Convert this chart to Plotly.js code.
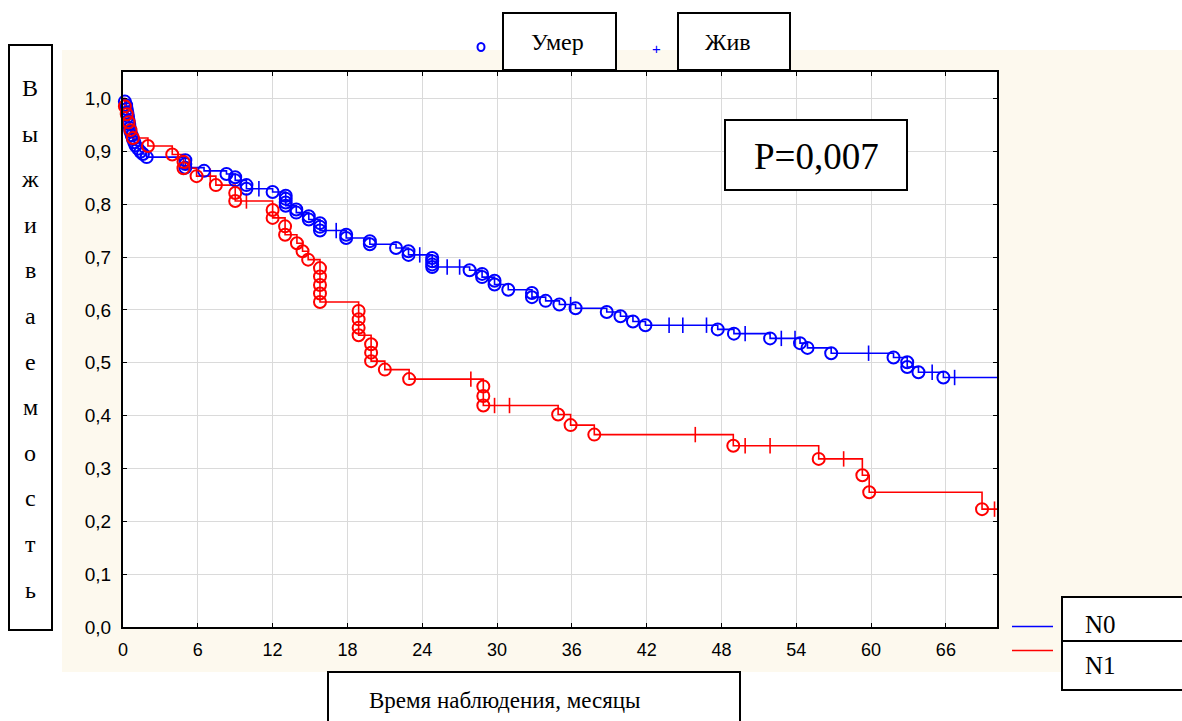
<!DOCTYPE html>
<html>
<head>
<meta charset="utf-8">
<script src="https://cdn.plot.ly/plotly-3.0.1.min.js"></script>
<style>html,body{margin:0;padding:0;background:#fff;}#chart{width:1182px;height:721px;}</style>
</head>
<body>
<div id="chart"></div>
<script>
// ---- Data ----
// N0 group: event (death) times in months and survival after each event
const n0DeathT = [0.15,0.25,0.3,0.35,0.4,0.45,0.5,0.55,0.6,0.7,0.8,0.9,1.0,1.2,1.4,1.6,1.9,
  5.0,5.0,5.0,6.5,8.3,9.0,9.0,9.9,9.9,12.0,13.05,13.05,13.05,13.05,13.9,13.9,14.9,14.9,
  15.8,15.8,15.8,17.9,17.9,19.8,19.8,21.9,22.9,22.9,24.8,24.8,24.8,24.8,27.8,28.8,28.8,
  29.8,29.8,30.9,32.8,32.8,33.9,35.0,36.3,38.8,39.9,40.9,41.9,47.7,49.0,51.9,54.3,54.9,
  56.8,61.8,62.9,62.9,63.8,65.8];
const n0DeathS = [0.994,0.987,0.980,0.973,0.966,0.958,0.951,0.944,0.937,0.930,0.923,0.917,0.911,0.905,0.899,0.895,0.889,
  0.883,0.876,0.869,0.863,0.857,0.851,0.845,0.836,0.829,0.823,0.816,0.810,0.803,0.797,0.790,0.784,0.777,0.771,
  0.764,0.757,0.750,0.742,0.736,0.730,0.724,0.717,0.711,0.704,0.698,0.692,0.686,0.681,0.675,0.668,0.662,
  0.655,0.648,0.638,0.632,0.624,0.617,0.610,0.603,0.596,0.588,0.578,0.571,0.563,0.555,0.546,0.537,0.528,
  0.518,0.510,0.501,0.492,0.482,0.472];
// N0 censored (alive) observations
const n0CensT = [10.9,17.1,23.8,26.0,27.0,35.9,43.8,44.9,46.8,49.9,52.8,53.9,59.8,64.9,66.7];
const n0CensS = [0.829,0.750,0.704,0.681,0.681,0.610,0.571,0.571,0.571,0.555,0.546,0.546,0.518,0.482,0.472];

// N1 group
const n1DeathT = [0.15,0.3,0.45,0.6,0.8,2.0,3.95,4.85,4.85,5.9,7.45,9.0,9.0,12.0,12.0,13.0,13.0,
  13.95,14.4,14.85,15.8,15.8,15.8,15.8,15.8,18.9,18.9,18.9,18.9,19.9,19.9,19.9,21.0,22.95,
  28.9,28.9,28.9,34.9,35.9,37.8,48.95,55.8,59.3,59.85,68.9];
const n1DeathS = [0.985,0.970,0.955,0.940,0.925,0.910,0.894,0.880,0.868,0.853,0.836,0.821,0.806,0.789,0.774,0.758,0.742,
  0.726,0.711,0.695,0.679,0.663,0.647,0.631,0.615,0.598,0.582,0.566,0.552,0.535,0.519,0.503,0.487,0.469,
  0.455,0.437,0.419,0.402,0.382,0.364,0.343,0.318,0.287,0.255,0.223];
const n1CensT = [7.0,9.9,27.9,29.8,31.0,45.9,49.9,51.9,57.8,69.9];
const n1CensS = [0.853,0.806,0.469,0.419,0.419,0.364,0.343,0.343,0.318,0.223];

const xTicks = [0,6,12,18,24,30,36,42,48,54,60,66];
const yTicks = [0,0.1,0.2,0.3,0.4,0.5,0.6,0.7,0.8,0.9,1.0];
const groupNames = ['N0','N1'];
const legendMarks = ['Умер','Жив'];
const yTitleLetters = ['В','ы','ж','и','в','а','е','м','о','с','т','ь'];
const xTitle = 'Время наблюдения, месяцы';
const pText = 'P=0,007';
const xEnd = 70.1;

// ---- Build traces ----
function stepLine(tArr, sArr, color, name){
  const x=[0].concat(tArr, [xEnd]);
  const y=[1].concat(sArr, [sArr[sArr.length-1]]);
  return {x:x,y:y,type:'scatter',mode:'lines',line:{shape:'hv',color:color,width:1.6},name:name,hoverinfo:'skip'};
}
function deaths(tArr,sArr,color){
  return {x:tArr,y:sArr,type:'scatter',mode:'markers',marker:{symbol:'circle-open',size:12,color:color,line:{width:2,color:color}},cliponaxis:false,hoverinfo:'skip'};
}
function cens(tArr,sArr,color){
  return {x:tArr,y:sArr,type:'scatter',mode:'markers',marker:{symbol:'line-ns-open',size:11,color:color,line:{width:1.6,color:color}},cliponaxis:false,hoverinfo:'skip'};
}
const blue='#0000FF', red='#FF0000';
const traces=[
  stepLine(n0DeathT,n0DeathS,blue,groupNames[0]),
  stepLine(n1DeathT,n1DeathS,red,groupNames[1]),
  cens(n0CensT,n0CensS,blue),
  cens(n1CensT,n1CensS,red),
  deaths(n0DeathT,n0DeathS,blue),
  deaths(n1DeathT,n1DeathS,red)
];

// pixel -> paper helpers
const L=123,T=72,W=874,H=555;
function px(x){return (x-L)/W;}
function py(y){return (T+H-y)/H;}
function box(x0,y0,x1,y1,fill,layer){
  return {type:'rect',xref:'paper',yref:'paper',x0:px(x0),x1:px(x1),y0:py(y1),y1:py(y0),
    fillcolor:fill||'#fff',line:{color:'#000',width:2},layer:layer||'above'};
}
const shapes=[
  {type:'rect',xref:'paper',yref:'paper',x0:px(62),x1:px(1190),y0:py(672),y1:py(50),fillcolor:'#FDF9EE',line:{width:0},layer:'below'},
  {type:'rect',xref:'paper',yref:'paper',x0:0,x1:1,y0:0,y1:1,fillcolor:'#FFFFFF',line:{width:0},layer:'below'},
  box(9,45,52,630),
  box(503,13,616,70),
  box(678,13,790,70),
  box(725,120,907,190),
  box(328,672,740,730),
  box(1062,597,1195,690),
  {type:'line',xref:'paper',yref:'paper',x0:px(1062),x1:px(1195),y0:py(641),y1:py(641),line:{color:'#000',width:2}},
  {type:'line',xref:'paper',yref:'paper',x0:px(1012),x1:px(1053),y0:py(626.5),y1:py(626.5),line:{color:blue,width:1.5}},
  {type:'line',xref:'paper',yref:'paper',x0:px(1012),x1:px(1053),y0:py(650.5),y1:py(650.5),line:{color:red,width:1.5}},
  {type:'circle',xref:'paper',yref:'paper',x0:px(477.5),x1:px(484.5),y0:py(51),y1:py(43),line:{color:blue,width:2}}
];
const serif='Liberation Serif';
const sans='Liberation Sans';
function ann(text,x,y,size,color,font){
  return {text:text,xref:'paper',yref:'paper',x:px(x),y:py(y),xanchor:'center',yanchor:'middle',showarrow:false,
    font:{family:font||serif,size:size,color:color||'#000'}};
}
const annotations=[
  ann(legendMarks[0],557,42,24),
  ann(legendMarks[1],728,42,24),
  ann('+',656,48,15,blue,sans),
  ann(pText,816,156,37),
  ann(xTitle,505,700,23),
  ann(groupNames[0],1100,624,25),
  ann(groupNames[1],1100,665,25)
];
yTitleLetters.forEach(function(ch,i){
  annotations.push(ann(ch,30,88+i*45.6,24));
});

const layout={
  width:1182,height:721,
  margin:{l:L,r:1182-L-W,t:T,b:721-T-H,pad:0},
  paper_bgcolor:'#FFFFFF',plot_bgcolor:'#FFFFFF',
  separators:', ',
  showlegend:false,
  font:{family:sans,size:18,color:'#000'},
  xaxis:{range:[0,xEnd],tickvals:xTicks,ticktext:xTicks.map(String),showgrid:true,gridcolor:'#DADADA',gridwidth:1,
    zeroline:false,showline:true,linecolor:'#000',linewidth:2,mirror:'ticks',ticks:'inside',ticklen:4,tickcolor:'#000',
    tickfont:{size:18,family:sans},ticklabelstandoff:5},
  yaxis:{range:[0,1.05],tickvals:yTicks,tickformat:'.1f',showgrid:true,gridcolor:'#DADADA',gridwidth:1,
    zeroline:false,showline:true,linecolor:'#000',linewidth:2,mirror:'ticks',ticks:'inside',ticklen:4,tickcolor:'#000',
    tickfont:{size:19,family:sans},ticklabelstandoff:6},
  shapes:shapes,
  annotations:annotations
};
Plotly.newPlot('chart',traces,layout,{displayModeBar:false,staticPlot:true});
</script>
</body>
</html>
